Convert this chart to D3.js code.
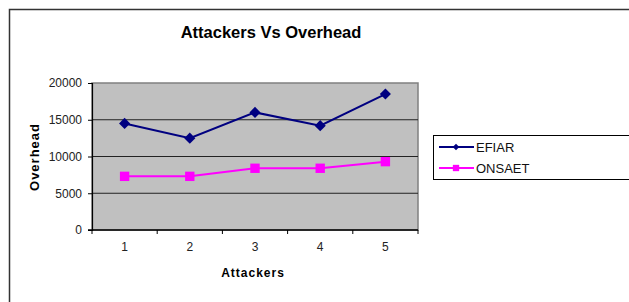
<!DOCTYPE html>
<html>
<head>
<meta charset="utf-8">
<script src="https://cdn.jsdelivr.net/npm/d3@7"></script>
<style>
  body { margin: 0; background: #fff; }
  text { font-family: "Liberation Sans", Arial, sans-serif; }
</style>
</head>
<body>
<svg id="chart" width="629" height="302"></svg>
<script>
// chart data
const attackers = [1, 2, 3, 4, 5];
const efiar = [14500, 12500, 16000, 14200, 18500];
const onsaet = [7300, 7300, 8400, 8400, 9300];
const yTicks = [0, 5000, 10000, 15000, 20000];

const svg = d3.select("#chart");

// outer chart frame
svg.append("rect")
    .attr("x", 9.5).attr("y", 9.5)
    .attr("width", 640).attr("height", 320)
    .attr("fill", "white").attr("stroke", "#333").attr("stroke-width", 1.5);

const plot = {left: 92, right: 418, top: 83, bottom: 230};

const x = d3.scaleBand().domain(attackers).range([plot.left, plot.right]);
const y = d3.scaleLinear().domain([0, 20000]).range([plot.bottom, plot.top]);

// plot background
svg.append("rect")
    .attr("x", plot.left).attr("y", plot.top)
    .attr("width", plot.right - plot.left).attr("height", plot.bottom - plot.top)
    .attr("fill", "#c0c0c0").attr("stroke", "#808080").attr("stroke-width", 1.5);

// gridlines
svg.append("g").selectAll("line")
    .data(yTicks.filter(d => d > 0 && d < 20000))
    .join("line")
    .attr("x1", plot.left).attr("x2", plot.right)
    .attr("y1", d => y(d)).attr("y2", d => y(d))
    .attr("stroke", "#222").attr("stroke-width", 1);

// y axis
const yAxis = svg.append("g")
    .attr("transform", `translate(${plot.left},0)`)
    .call(d3.axisLeft(y).tickValues(yTicks).tickFormat(d3.format("d")).tickSize(4).tickPadding(6));
yAxis.select(".domain").attr("stroke", "#000").attr("stroke-width", 1.2);
yAxis.selectAll(".tick line").attr("stroke", "#000");
yAxis.selectAll("text").attr("font-size", 12).attr("fill", "#222")
    .attr("font-family", "Liberation Sans, Arial, sans-serif");

// x axis: ticks at category boundaries
const xAxis = svg.append("g")
    .attr("transform", `translate(0,${plot.bottom})`)
    .call(d3.axisBottom(x).tickSize(0).tickPadding(12));
xAxis.select(".domain").attr("stroke", "#000").attr("stroke-width", 1.5)
    .attr("d", `M${plot.left - 4},0H${plot.right}`);
xAxis.selectAll("text").attr("font-size", 12).attr("fill", "#222")
    .attr("font-family", "Liberation Sans, Arial, sans-serif");
const bounds = attackers.map(d => x(d)).concat([plot.right]);
xAxis.selectAll(".bound").data(bounds).join("line")
    .attr("x1", d => d).attr("x2", d => d)
    .attr("y1", 0).attr("y2", 4)
    .attr("stroke", "#000");

// series
const series = [
    {name: "EFIAR", values: efiar, color: "#000080", symbol: d3.symbolSquare, size: 62, rot: 45, legendSize: 22},
    {name: "ONSAET", values: onsaet, color: "#ff00ff", symbol: d3.symbolSquare, size: 88, rot: 0, legendSize: 40}
];
const cx = d => x(d) + x.bandwidth() / 2;
const line = d3.line().x((d, i) => cx(attackers[i])).y(d => y(d));

series.forEach(s => {
    svg.append("path")
        .datum(s.values)
        .attr("d", line)
        .attr("fill", "none").attr("stroke", s.color).attr("stroke-width", 2);
    svg.append("g").selectAll("path")
        .data(s.values)
        .join("path")
        .attr("transform", (d, i) => `translate(${cx(attackers[i])},${y(d)}) rotate(${s.rot})`)
        .attr("d", d3.symbol().type(s.symbol).size(s.size))
        .attr("fill", s.color);
});

// title
svg.append("text")
    .attr("x", 271).attr("y", 38)
    .attr("text-anchor", "middle")
    .attr("font-size", 16.5).attr("font-weight", "bold")
    .text("Attackers Vs Overhead");

// axis titles
svg.append("text")
    .attr("x", 253).attr("y", 277)
    .attr("text-anchor", "middle")
    .attr("font-size", 12).attr("font-weight", "bold")
    .attr("letter-spacing", 1)
    .text("Attackers");

svg.append("text")
    .attr("transform", "translate(39,157) rotate(-90)")
    .attr("text-anchor", "middle")
    .attr("font-size", 13).attr("font-weight", "bold")
    .attr("letter-spacing", 1)
    .text("Overhead");

// legend
const legend = svg.append("g");
legend.append("rect")
    .attr("x", 433.5).attr("y", 135.5)
    .attr("width", 210).attr("height", 44)
    .attr("fill", "white").attr("stroke", "#000");
series.forEach((s, i) => {
    const ly = 147 + i * 21;
    legend.append("line")
        .attr("x1", 439).attr("x2", 474)
        .attr("y1", ly).attr("y2", ly)
        .attr("stroke", s.color).attr("stroke-width", 2);
    legend.append("path")
        .attr("transform", `translate(456,${ly}) rotate(${s.rot})`)
        .attr("d", d3.symbol().type(s.symbol).size(s.legendSize))
        .attr("fill", s.color);
    legend.append("text")
        .attr("x", 476).attr("y", ly + 4.5)
        .attr("font-size", 13).attr("fill", "#111")
        .text(s.name);
});
</script>
</body>
</html>
